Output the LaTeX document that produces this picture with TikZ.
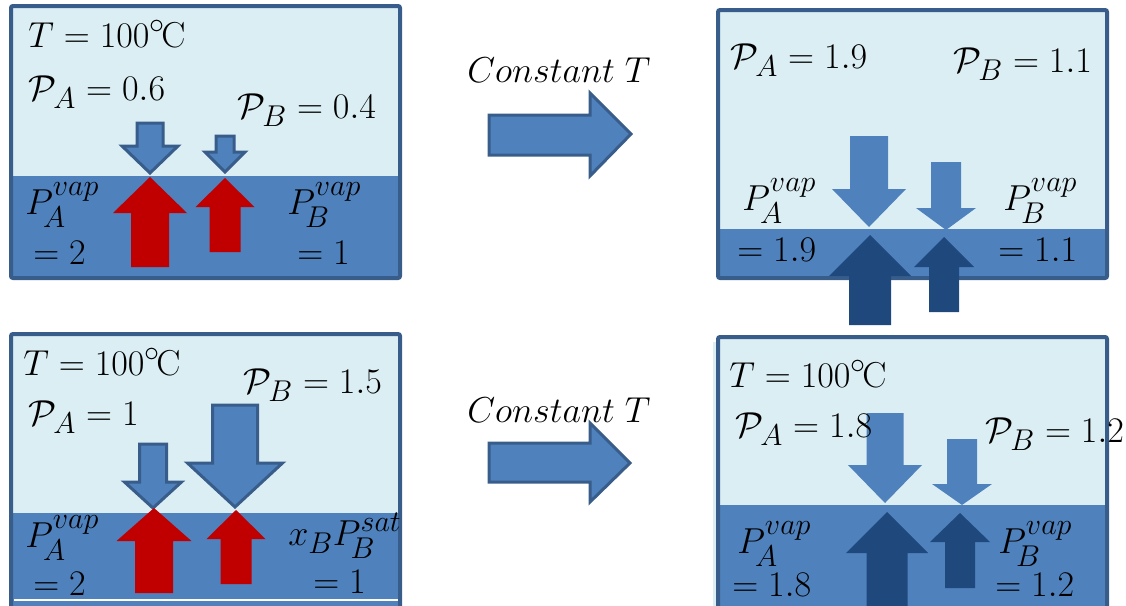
\documentclass[tikz,border=0pt]{standalone}
\usepackage{amsmath}
\definecolor{liq}{HTML}{4F81BD}
\definecolor{vap}{HTML}{DBEEF4}
\definecolor{edge}{HTML}{385D8A}
\definecolor{redarr}{HTML}{C00000}
\definecolor{darkarr}{HTML}{1F497D}
\tikzset{
  lbl/.style={anchor=base west, inner sep=0pt, font=\Huge, scale=1.45},
  boxedge/.style={draw=edge, line width=4pt, rounded corners=2pt},
  outarr/.style={fill=liq, draw=edge, line width=3pt, line join=miter},
  plainarr/.style={fill=liq},
  redup/.style={fill=redarr},
  darkup/.style={fill=darkarr},
}
\newcommand\degC{{}^{\circ}\mkern-2mu\mathrm{C}}
\newcommand\pvap[1]{P_{\!#1}^{vap}}
% down arrow: style, cx, top, shaft half, head top, head half, tip
\newcommand\dnarw[7]{\path[#1] (#2-#4,#3) -- (#2+#4,#3) -- (#2+#4,#5) -- (#2+#6,#5) -- (#2,#7) -- (#2-#6,#5) -- (#2-#4,#5) -- cycle;}
% up arrow: style, cx, tip, head base, head half, shaft half, bottom
\newcommand\uparw[7]{\path[#1] (#2,#3) -- (#2+#5,#4) -- (#2+#6,#4) -- (#2+#6,#7) -- (#2-#6,#7) -- (#2-#6,#4) -- (#2-#5,#4) -- cycle;}
\begin{document}
\begin{tikzpicture}[x=1pt,y=-1pt]
\useasboundingbox (0,0) rectangle (1126,605);
\begin{scope}
\clip (0,0) rectangle (1126,605);
% ---------- panel 1 ----------
\fill[vap] (11,6) rectangle (400,278);
\fill[liq] (11,176) rectangle (400,278);
\draw[boxedge] (11,6) rectangle (400,278);
\dnarw{outarr}{150}{123}{13}{146}{28}{173}
\dnarw{outarr}{225}{136}{9}{152}{20}{172}
\uparw{redup}{150}{177}{213}{37}{19}{267}
\uparw{redup}{225}{178}{207}{29.5}{15.5}{252}
\node[lbl] (t1) at (28,47) {$T=100\degC$};
\node[lbl] (pa1) at (28,100) {$\mathcal{P}_A=0.6$};
\node[lbl] (pb1) at (237,118) {$\mathcal{P}_B=0.4$};
\node[lbl] (va1) at (25,214) {$\pvap{A}$};
\node[lbl] (ea1) at (33,264) {$=2$};
\node[lbl] (vb1) at (287,214) {$\pvap{B}$};
\node[lbl] (eb1) at (297,264) {$=1$};
% ---------- panel 2 ----------
\fill[vap] (718,10) rectangle (1107,278);
\fill[liq] (718,229) rectangle (1107,278);
\draw[boxedge] (718,10) rectangle (1107,278);
\dnarw{plainarr}{869}{136}{19}{189}{37}{227}
\dnarw{plainarr}{946}{162}{15}{208}{30}{230}
\uparw{darkup}{870}{235}{276}{41}{21}{325}
\uparw{darkup}{944}{237}{267}{30}{15}{312}
\node[lbl] (pa2) at (730,68) {$\mathcal{P}_A=1.9$};
\node[lbl] (pb2) at (953,72) {$\mathcal{P}_B=1.1$};
\node[lbl] (va2) at (742,210) {$\pvap{A}$};
\node[lbl] (ea2) at (737,261) {$=1.9$};
\node[lbl] (vb2) at (1003,210) {$\pvap{B}$};
\node[lbl] (eb2) at (998,261) {$=1.1$};
% ---------- panel 3 ----------
\fill[vap] (11,334) rectangle (400,620);
\fill[liq] (11,513) rectangle (400,620);
\draw[boxedge] (11,334) rectangle (400,620);
\draw[white, line width=1.5pt] (14,600) -- (398,600);
\dnarw{outarr}{153}{444}{13.5}{482}{28.5}{508}
\dnarw{outarr}{235}{405}{22.5}{463}{47.5}{507}
\uparw{redup}{154}{508}{541}{37.5}{19}{593}
\uparw{redup}{236}{510}{539}{29.5}{15.5}{584}
\node[lbl] (t3) at (23,375) {$T=100\degC$};
\node[lbl] (pb3) at (243,393) {$\mathcal{P}_B=1.5$};
\node[lbl] (pa3) at (28,425) {$\mathcal{P}_A=1$};
\node[lbl] (va3) at (25,547) {$\pvap{A}$};
\node[lbl] (ea3) at (33,595) {$=2$};
\node[lbl] (xb3) at (288,545) {$x_B P_{\!B}^{sat}$};
\node[lbl] (eb3) at (313,593) {$=1$};
% ---------- panel 4 ----------
\fill[vap] (713,342) rectangle (718,620);
\fill[vap] (718,337) rectangle (1107,620);
\fill[liq] (718,505) rectangle (1107,620);
\draw[boxedge] (718,337) rectangle (1107,620);
\dnarw{plainarr}{885}{413}{18.5}{465}{37}{503}
\dnarw{plainarr}{962}{439}{15}{484}{30}{505}
\uparw{darkup}{887}{512}{553}{41}{20.5}{620}
\uparw{darkup}{960}{513}{542}{30}{15}{588}
\node[lbl] (t4) at (729,387) {$T=100\degC$};
\node[lbl] (pa4) at (735,437) {$\mathcal{P}_A=1.8$};
\node[lbl] (pb4) at (985,442) {$\mathcal{P}_B=1.2$};
\node[lbl] (va4) at (737,553) {$\pvap{A}$};
\node[lbl] (ea4) at (732,596) {$=1.8$};
\node[lbl] (vb4) at (998,553) {$\pvap{B}$};
\node[lbl] (eb4) at (995,596) {$=1.2$};
% ---------- middle ----------
\node[lbl] (c1) at (467,82) {$Constant\;T$};
\path[outarr] (489,115) -- (590,115) -- (590,93) -- (631,134) -- (590,176) -- (590,155) -- (489,155) -- cycle;
\node[lbl] (c2) at (467,422) {$Constant\;T$};
\path[outarr] (489,443) -- (590,443) -- (590,423) -- (630,463) -- (590,502) -- (590,482) -- (489,482) -- cycle;
\end{scope}
\end{tikzpicture}
\end{document}
